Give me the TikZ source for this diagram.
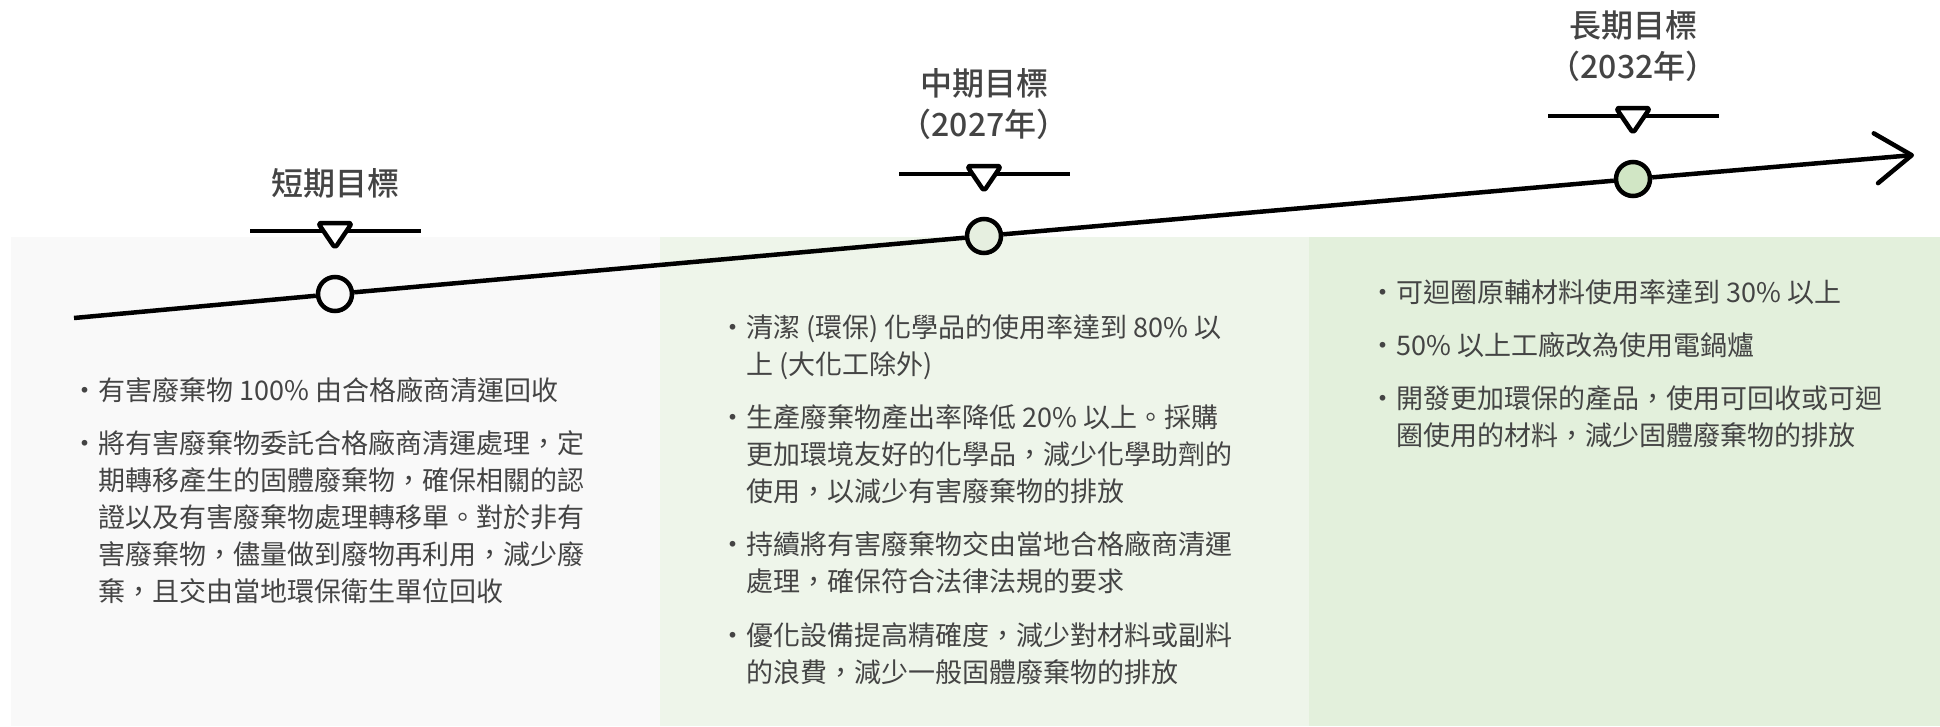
\documentclass[tikz,border=0pt]{standalone}
\usepackage{fontspec}
\setmainfont{Noto Sans CJK TC}
\newfontfamily\goalfont{Noto Sans CJK TC Medium}
\usetikzlibrary{positioning,arrows.meta}

\definecolor{paneA}{HTML}{F9F9F9}
\definecolor{paneB}{HTML}{EEF5EA}
\definecolor{paneC}{HTML}{E3F0DC}
\definecolor{dotB}{HTML}{E6EFE0}
\definecolor{dotC}{HTML}{D1E6C5}
\definecolor{inkgray}{HTML}{444444}

\begin{document}
\begin{tikzpicture}[
            x=1pt, y=-1pt,
            node distance=16pt,
            milestone/.style={
                circle,
                draw,
                line width=4.5pt,
                minimum size=34pt,
                inner sep=0pt
            },
            link/.style={line width=4.5pt},
            goal/.style={
                font=\fontsize{32}{41}\selectfont\goalfont,
                text=inkgray,
                align=center,
                inner sep=0pt
            },
            item/.style={
                font=\fontsize{27}{37}\selectfont,
                text=inkgray,
                inner sep=0pt,
                anchor=north west
            },
            tri/.style={line width=4.5pt, fill=white, rounded corners=3pt, line join=round}
        ]

            \useasboundingbox (0,0) rectangle (1940,726);

            % panels
            \fill[paneA] (11,237) rectangle (660,726);
            \fill[paneB] (660,237) rectangle (1309,726);
            \fill[paneC] (1309,237) rectangle (1940,726);

            % milestones on the time line
            \node[milestone, fill=paneA] (m1) at (335, 294) {};
            \node[milestone, fill=dotB] (m2) at (984, 236) {};
            \node[milestone, fill=dotC] (m3) at (1633, 179) {};

            \coordinate (start) at (74, 318);
            \coordinate (end) at (1914, 155);

            \draw[link] (start) -- (m1);
            \draw[link] (m1) -- (m2);
            \draw[link] (m2) -- (m3);
            \draw[link, -{Straight Barb[length=36pt, width=50pt, round]}] (m3) -- (end);

            % markers
            \coordinate (t1) at ([yshift=63pt]m1.center);
            \coordinate (t2) at ([yshift=62pt]m2.center);
            \coordinate (t3) at ([yshift=63pt]m3.center);

            \draw[link] ([xshift=-85pt]t1) -- ([xshift=86pt]t1);
            \draw[tri] ([shift={(-17pt,8pt)}]t1) -- ([shift={(17pt,8pt)}]t1) -- ([yshift=-17pt]t1) -- cycle;
            \draw[link] ([xshift=-85pt]t2) -- ([xshift=86pt]t2);
            \draw[tri] ([shift={(-17pt,8pt)}]t2) -- ([shift={(17pt,8pt)}]t2) -- ([yshift=-17pt]t2) -- cycle;
            \draw[link] ([xshift=-85pt]t3) -- ([xshift=86pt]t3);
            \draw[tri] ([shift={(-17pt,8pt)}]t3) -- ([shift={(17pt,8pt)}]t3) -- ([yshift=-17pt]t3) -- cycle;

            % goal titles
            \node[goal] (g1) at (335, 183) {短期目標};
            \node[goal] (g2) at (984, 104) {中期目標\\（2027年）};
            \node[goal] (g3) at (1633, 46) {長期目標\\（2032年）};

            % short term
            \node[item] (a1) at (71, 374) {\begin{tabular}{@{}l@{}l@{}}
                ・&有害廢棄物 100\% 由合格廠商清運回收
            \end{tabular}};
            \node[item, below=of a1.south west, anchor=north west] (a2) {\begin{tabular}{@{}l@{}l@{}}
                ・&將有害廢棄物委託合格廠商清運處理，定\\
                &期轉移產生的固體廢棄物，確保相關的認\\
                &證以及有害廢棄物處理轉移單。對於非有\\
                &害廢棄物，儘量做到廢物再利用，減少廢\\
                &棄，且交由當地環保衛生單位回收
            \end{tabular}};

            % mid term
            \node[item] (b1) at (719, 311) {\begin{tabular}{@{}l@{}l@{}}
                ・&清潔 (環保) 化學品的使用率達到 80\% 以\\
                &上 (大化工除外)
            \end{tabular}};
            \node[item, below=of b1.south west, anchor=north west] (b2) {\begin{tabular}{@{}l@{}l@{}}
                ・&生產廢棄物產出率降低 20\% 以上。採購\\
                &更加環境友好的化學品，減少化學助劑的\\
                &使用，以減少有害廢棄物的排放
            \end{tabular}};
            \node[item, below=of b2.south west, anchor=north west] (b3) {\begin{tabular}{@{}l@{}l@{}}
                ・&持續將有害廢棄物交由當地合格廠商清運\\
                &處理，確保符合法律法規的要求
            \end{tabular}};
            \node[item, below=of b3.south west, anchor=north west] (b4) {\begin{tabular}{@{}l@{}l@{}}
                ・&優化設備提高精確度，減少對材料或副料\\
                &的浪費，減少一般固體廢棄物的排放
            \end{tabular}};

            % long term
            \node[item] (c1) at (1369, 276) {\begin{tabular}{@{}l@{}l@{}}
                ・&可迴圈原輔材料使用率達到 30\% 以上
            \end{tabular}};
            \node[item, below=of c1.south west, anchor=north west] (c2) {\begin{tabular}{@{}l@{}l@{}}
                ・&50\% 以上工廠改為使用電鍋爐
            \end{tabular}};
            \node[item, below=of c2.south west, anchor=north west] (c3) {\begin{tabular}{@{}l@{}l@{}}
                ・&開發更加環保的產品，使用可回收或可迴\\
                &圈使用的材料，減少固體廢棄物的排放
            \end{tabular}};

        \end{tikzpicture}
\end{document}
